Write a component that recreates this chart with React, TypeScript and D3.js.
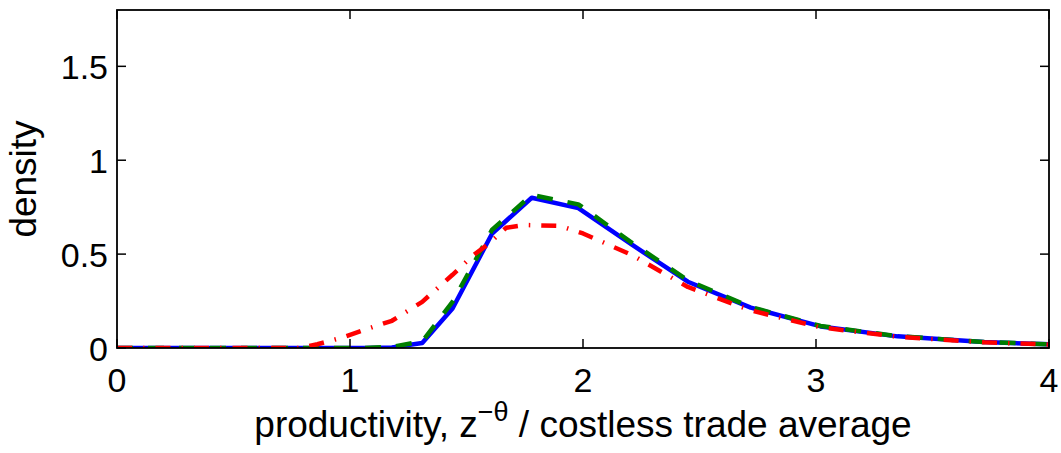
import React from "react";
import * as d3 from "d3";

// Productivity grid (shared by the solid and dashed series)
const gridX = [0, 0.78, 0.86, 0.96, 1.06, 1.18, 1.31, 1.44, 1.61, 1.78, 1.98, 2.21, 2.45, 2.72, 3.02, 3.35, 3.72, 4.13];
const solidY = [0, 0, 0, 0, 0, 0.003, 0.027, 0.21, 0.61, 0.8, 0.745, 0.55, 0.353, 0.215, 0.115, 0.062, 0.032, 0.014];
const dashedY = [0, 0, 0, 0, 0, 0.006, 0.035, 0.245, 0.63, 0.815, 0.765, 0.56, 0.36, 0.218, 0.117, 0.063, 0.032, 0.014];

// Dash-dot series on its own grid
const dotX = [0, 0.78, 0.86, 0.96, 1.06, 1.18, 1.31, 1.44, 1.53, 1.59, 1.67, 1.75, 1.9, 2.0, 2.21, 2.45, 2.72, 3.02, 3.35, 3.72, 4.13];
const dotY = [0, 0, 0.02, 0.053, 0.096, 0.145, 0.246, 0.39, 0.495, 0.55, 0.64, 0.655, 0.65, 0.61, 0.495, 0.325, 0.2, 0.11, 0.06, 0.03, 0.013];

const xTicks = [0, 1, 2, 3, 4];
const yTicks = [0, 0.5, 1, 1.5];
const yTickLabels = ["0", "0.5", "1", "1.5"];

const W = 1061;
const H = 453;
const left = 117;
const right = 1049;
const top = 10;
const bottom = 348;
const tickLen = 9;
const font = "'Liberation Sans', Arial, Helvetica, sans-serif";

export default function App() {
  const x = d3.scaleLinear().domain([0, 4]).range([left, right]);
  const y = d3.scaleLinear().domain([0, 1.8]).range([bottom, top]);

  const line = d3
    .line<[number, number]>()
    .x((d) => x(d[0]))
    .y((d) => y(d[1]));

  const solid = line(gridX.map((v, i) => [v, solidY[i]]) as [number, number][]) || "";
  const dashed = line(gridX.map((v, i) => [v, dashedY[i]]) as [number, number][]) || "";
  const dashDot = line(dotX.map((v, i) => [v, dotY[i]]) as [number, number][]) || "";

  return (
    <svg
      width={W}
      height={H}
      viewBox={`0 0 ${W} ${H}`}
      style={{ position: "absolute", left: 0, top: 0, background: "#fff" }}
    >
      <defs>
        <clipPath id="plotArea">
          <rect x={left} y={top} width={right - left} height={bottom - top} />
        </clipPath>
      </defs>
      <rect x={0} y={0} width={W} height={H} fill="#fff" />

      <g clipPath="url(#plotArea)" fill="none" strokeLinejoin="round">
        <path d={solid} stroke="#0000ff" strokeWidth={4.5} />
        <path d={dashed} stroke="#007f00" strokeWidth={4.5} strokeDasharray="16,15" />
        <path d={dashDot} stroke="#ff0000" strokeWidth={4.5} strokeDasharray="15,11,1.5,11" />
      </g>

      {/* ticks on all four sides, pointing inward */}
      <g stroke="#000" strokeWidth={1.5}>
        {xTicks.map((t) => (
          <g key={"xt" + t}>
            <line x1={x(t)} x2={x(t)} y1={bottom} y2={bottom - tickLen} />
            <line x1={x(t)} x2={x(t)} y1={top} y2={top + tickLen} />
          </g>
        ))}
        {yTicks.map((t) => (
          <g key={"yt" + t}>
            <line x1={left} x2={left + tickLen} y1={y(t)} y2={y(t)} />
            <line x1={right} x2={right - tickLen} y1={y(t)} y2={y(t)} />
          </g>
        ))}
      </g>

      <rect
        x={left}
        y={top}
        width={right - left}
        height={bottom - top}
        fill="none"
        stroke="#000"
        strokeWidth={1.8}
      />

      <g fontFamily={font} fontSize={34} fill="#000">
        {xTicks.map((t) => (
          <text key={"xl" + t} x={x(t)} y={bottom + 44} textAnchor="middle">
            {String(t)}
          </text>
        ))}
        {yTicks.map((t, i) => (
          <text key={"yl" + t} x={left - 9} y={y(t) + 12.5} textAnchor="end">
            {yTickLabels[i]}
          </text>
        ))}
      </g>

      <text
        x={(left + right) / 2}
        y={437}
        textAnchor="middle"
        fontFamily={font}
        fontSize={37}
        fill="#000"
      >
        productivity, z
        <tspan fontSize={27} dy={-16}>
          −θ
        </tspan>
        <tspan dy={16}> / costless trade average</tspan>
      </text>

      <text
        transform={`translate(36, ${(top + bottom) / 2}) rotate(-90)`}
        textAnchor="middle"
        fontFamily={font}
        fontSize={37}
        fill="#000"
      >
        density
      </text>
    </svg>
  );
}
